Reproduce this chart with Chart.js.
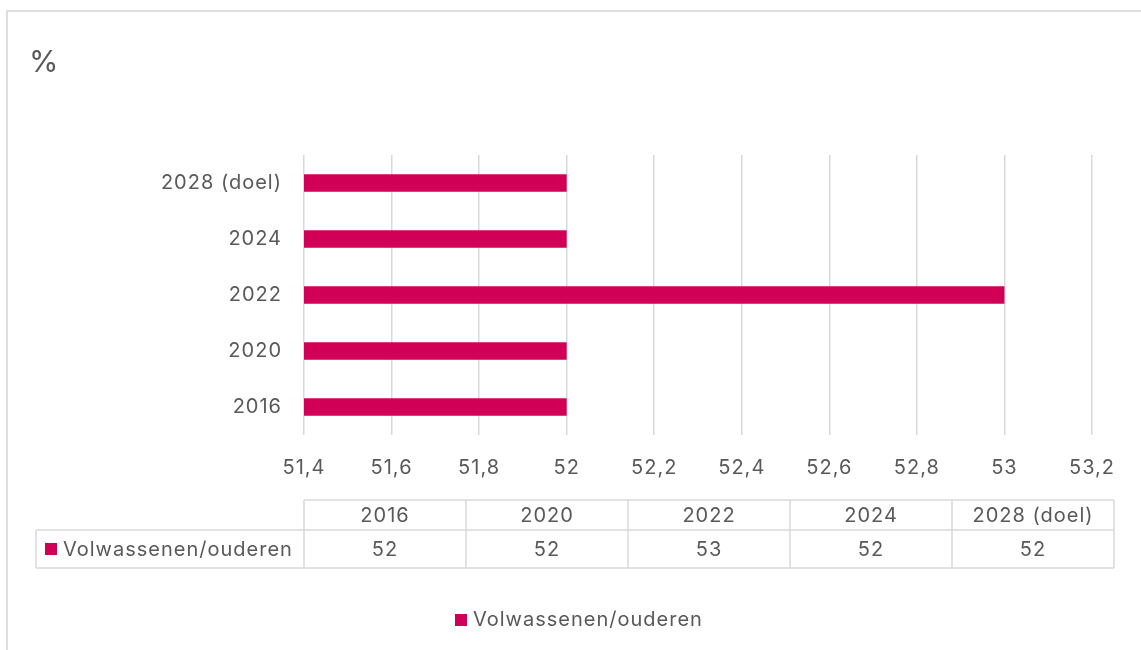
<!DOCTYPE html>
<html>
<head>
<meta charset="utf-8">
<script src="https://cdn.jsdelivr.net/npm/chart.js@4"></script>
<style>
  html, body { margin: 0; padding: 0; background: #fff; }
  #wrap { width: 1141px; height: 650px; }
</style>
</head>
<body>
<div id="wrap"><canvas id="chart" width="1141" height="650"></canvas></div>
<script>
const categories = ['2016', '2020', '2022', '2024', '2028 (doel)'];
const seriesName = 'Volwassenen/ouderen';
const seriesValues = [52, 52, 53, 52, 52];
const xTicks = [51.4, 51.6, 51.8, 52, 52.2, 52.4, 52.6, 52.8, 53, 53.2];

const barColor = '#d10056';
const gridColor = '#d9d9d9';
const textColor = '#595959';
const fontFamily = 'Inter, "Open Sans", sans-serif';

const fmt = v => String(Math.round(v * 10) / 10).replace('.', ',');

// frame, "%" label, data table and legend
const extras = {
    id: 'extras',
    beforeInit(chart) {
        chart.ctx.letterSpacing = '1px';
    },
    beforeDraw(chart) {
        const { ctx } = chart;
        ctx.letterSpacing = '1px';
        ctx.save();
        ctx.strokeStyle = '#dedede';
        ctx.lineWidth = 2;
        ctx.beginPath();
        ctx.moveTo(7, 660);
        ctx.lineTo(7, 11);
        ctx.lineTo(1150, 11);
        ctx.stroke();
        ctx.restore();
    },
    afterDraw(chart) {
        const { ctx } = chart;
        ctx.save();
        ctx.fillStyle = textColor;
        ctx.font = '30px ' + fontFamily;
        ctx.textBaseline = 'middle';
        ctx.letterSpacing = '0px';
        ctx.fillText('%', 29, 63);
        ctx.letterSpacing = '1px';

        // data table
        const left = 36, colStart = 304, colW = 162;
        const top = 500, mid = 530, bottom = 568;
        const right = colStart + colW * categories.length;
        ctx.strokeStyle = gridColor;
        ctx.lineWidth = 1.5;
        ctx.beginPath();
        ctx.moveTo(colStart, top); ctx.lineTo(right, top);
        ctx.moveTo(left, mid); ctx.lineTo(right, mid);
        ctx.moveTo(left, bottom); ctx.lineTo(right, bottom);
        ctx.moveTo(left, mid); ctx.lineTo(left, bottom);
        for (let i = 0; i <= categories.length; i++) {
            const x = colStart + colW * i;
            ctx.moveTo(x, top); ctx.lineTo(x, bottom);
        }
        ctx.stroke();

        ctx.font = '20px ' + fontFamily;
        ctx.textAlign = 'center';
        categories.forEach((c, i) => {
            const cx = colStart + colW * i + colW / 2;
            ctx.fillText(c, cx, (top + mid) / 2 + 1);
            ctx.fillText(fmt(seriesValues[i]), cx, (mid + bottom) / 2 + 1);
        });
        ctx.textAlign = 'left';
        ctx.fillStyle = barColor;
        ctx.fillRect(45, 543, 12, 12);
        ctx.fillStyle = textColor;
        ctx.fillText(seriesName, 63, (mid + bottom) / 2 + 1);

        // legend
        ctx.fillStyle = barColor;
        ctx.fillRect(455, 614, 12, 12);
        ctx.fillStyle = textColor;
        ctx.fillText(seriesName, 473, 620);
        ctx.restore();
    }
};

const data = {
    labels: categories,
    datasets: [{
        label: seriesName,
        data: seriesValues,
        backgroundColor: barColor,
        barPercentage: 0.6,
        categoryPercentage: 0.52
    }]
};

const config = {
    type: 'bar',
    data: data,
    options: {
        indexAxis: 'y',
        responsive: false,
        animation: false,
        layout: { padding: { top: 155, right: 49, left: 0, bottom: 0 } },
        scales: {
            x: {
                min: 51.4,
                max: 53.2,
                afterBuildTicks: scale => { scale.ticks = xTicks.map(v => ({ value: v })); },
                afterFit: scale => { scale.height = 215; },
                grid: { color: gridColor, lineWidth: 1.5, drawTicks: false },
                border: { display: false },
                ticks: {
                    color: textColor,
                    font: { family: fontFamily, size: 20 },
                    padding: 21,
                    maxRotation: 0,
                    callback: v => fmt(v)
                }
            },
            y: {
                reverse: true,
                afterFit: scale => { scale.width = 304; },
                grid: { display: false, drawTicks: false },
                border: { display: false },
                ticks: {
                    color: textColor,
                    font: { family: fontFamily, size: 20 },
                    padding: 22
                }
            }
        },
        plugins: {
            legend: { display: false },
            tooltip: { enabled: false }
        }
    },
    plugins: [extras]
};

new Chart(document.getElementById('chart'), config);
</script>
</body>
</html>
